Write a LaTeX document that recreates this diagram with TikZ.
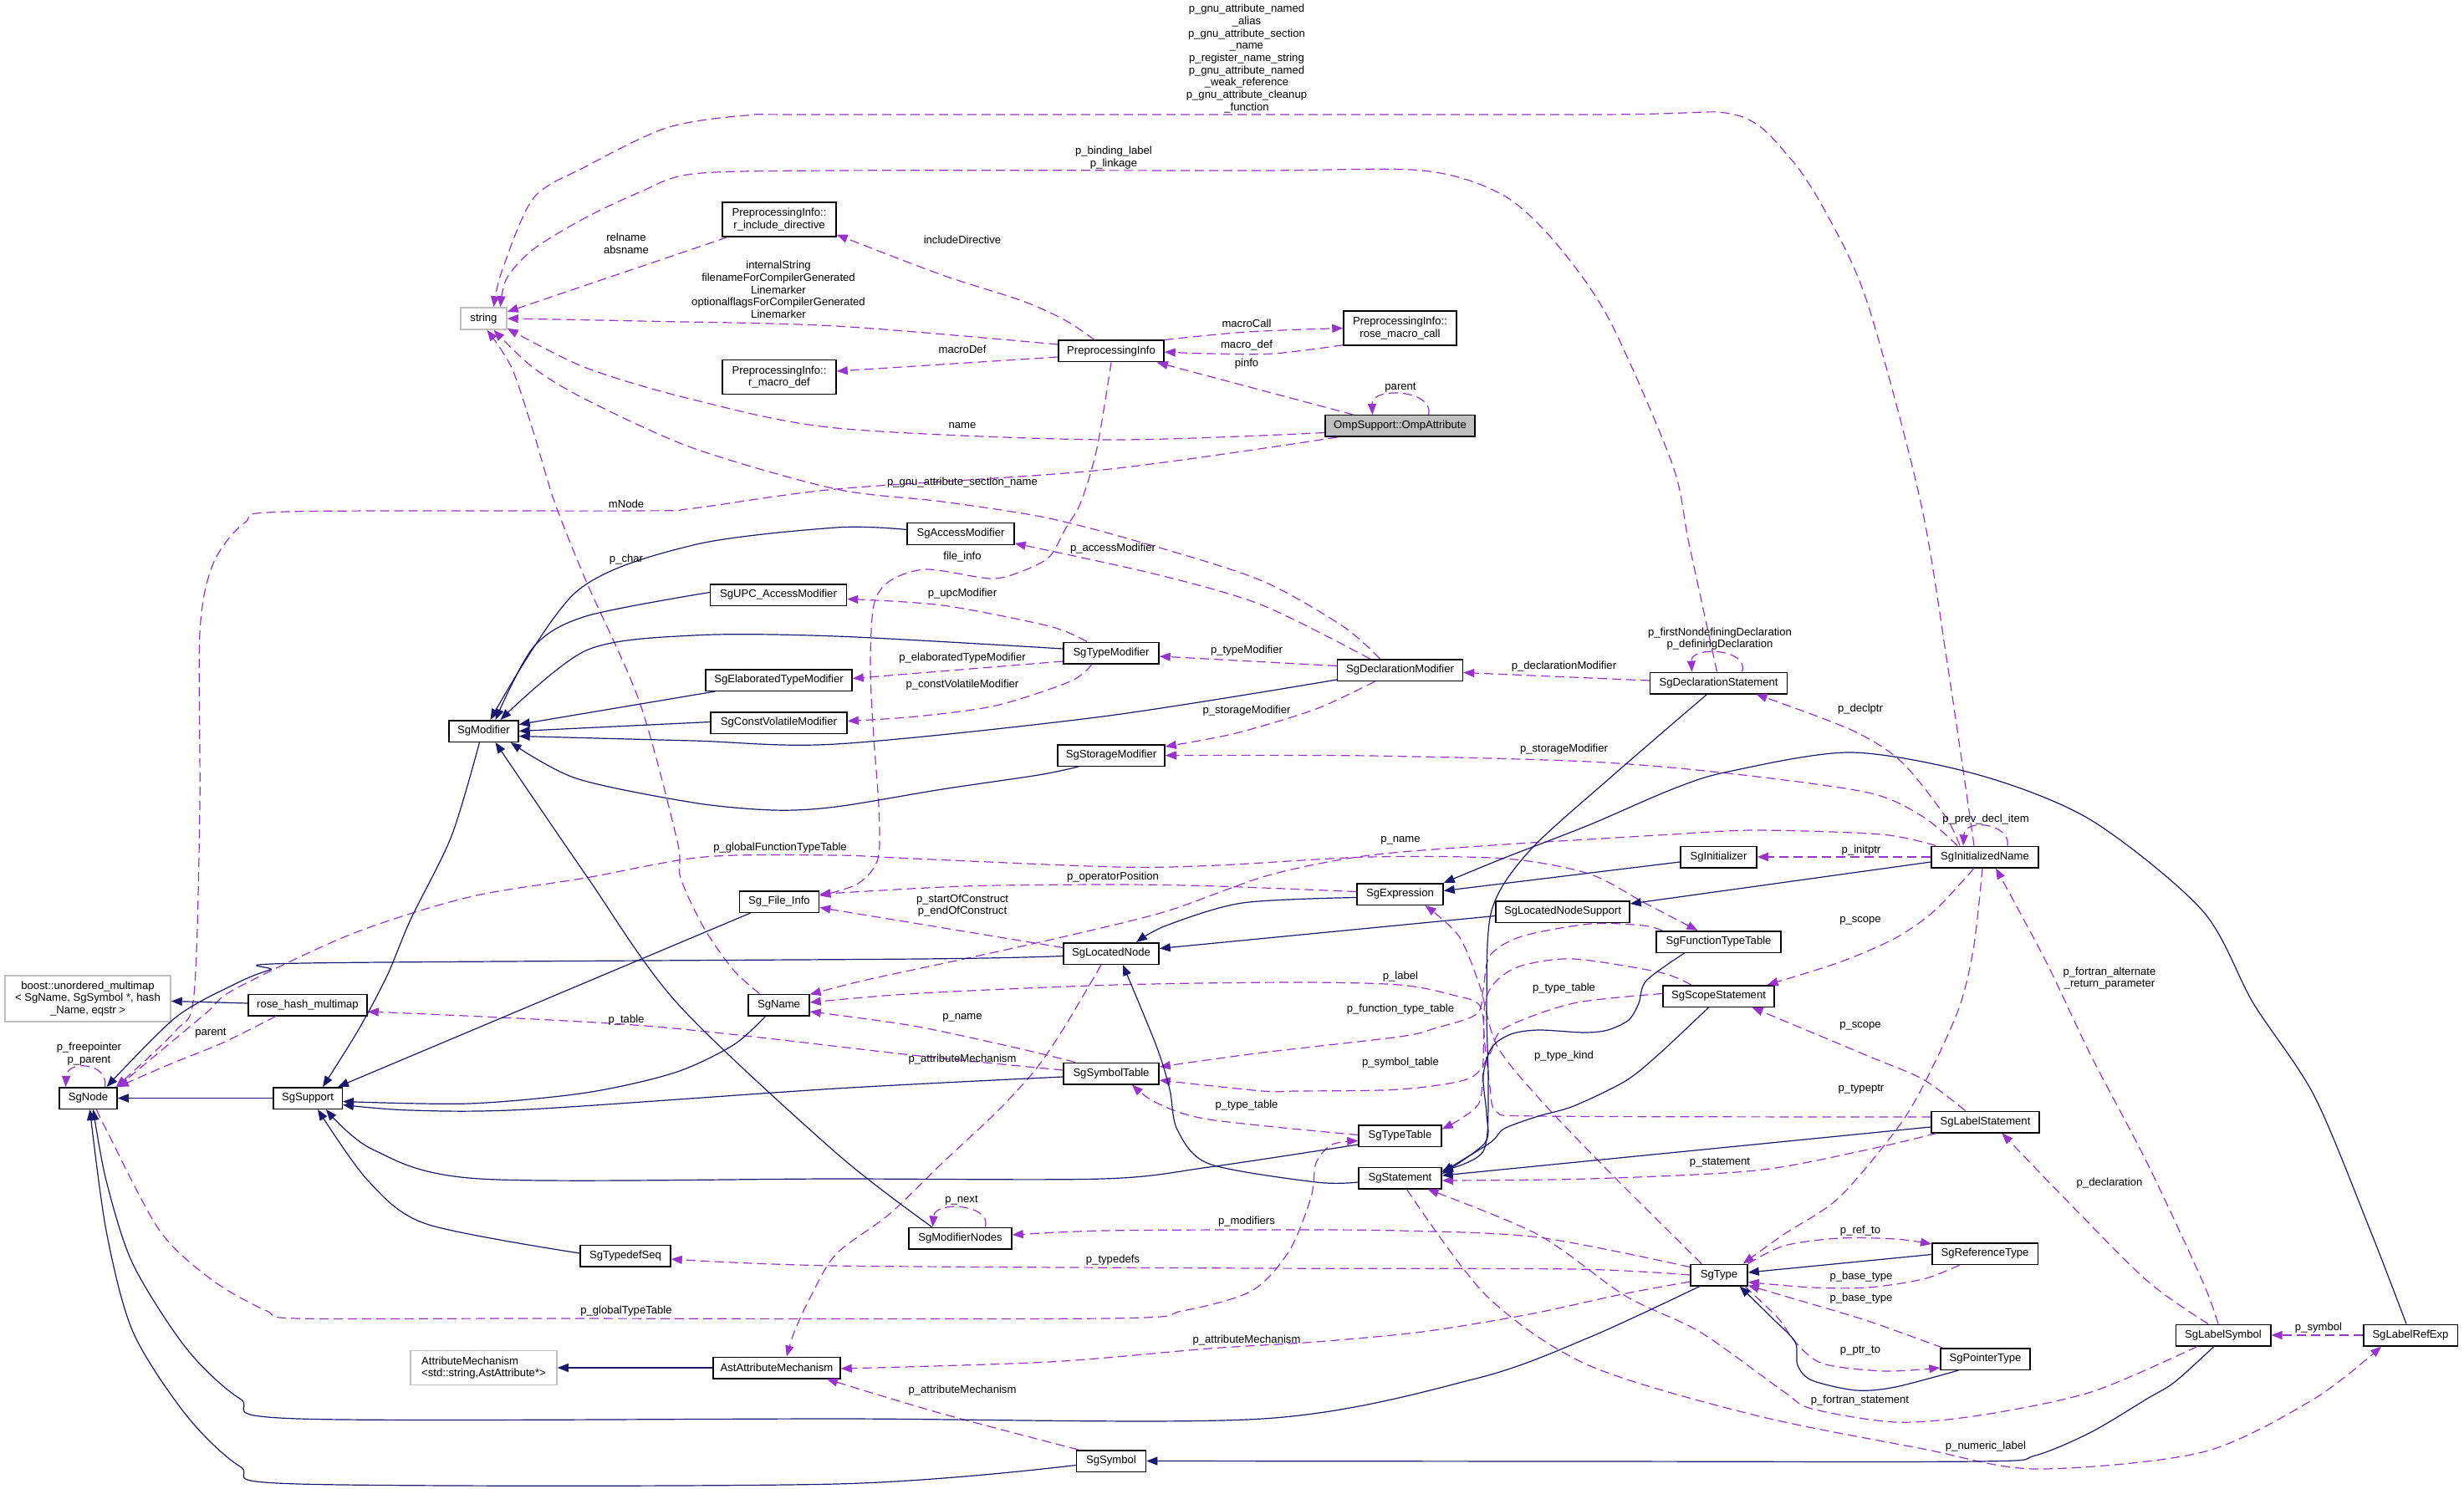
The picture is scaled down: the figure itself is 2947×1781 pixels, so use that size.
\documentclass[tikz,border=0pt]{standalone}
\usepackage{fontspec}
\setmainfont{Liberation Sans}
\usetikzlibrary{arrows.meta,calc}
\definecolor{navy}{HTML}{191970}
\definecolor{orch}{HTML}{9A32CD}
\definecolor{gbord}{HTML}{BFBFBF}
\begin{document}
\begin{tikzpicture}[x=0.5pt,y=-0.5pt,
  every node/.style={font=\fontsize{6.55pt}{7.35pt}\selectfont, inner sep=0pt, align=center},
  box/.style={draw=black, line width=0.75pt, fill=white, minimum height=12.75pt},
  gbox/.style={draw=gbord, line width=0.75pt, fill=white},
  inh/.style={draw=navy, line width=0.6pt, -{Triangle[length=6.5pt,width=5pt]}},
  dep/.style={draw=orch, line width=0.6pt, dash pattern=on 5.5pt off 3pt, -{Triangle[length=6.5pt,width=5pt]}},
]
\fill[white] (0,0) rectangle (2947,1781);
\useasboundingbox (0,0) rectangle (2947,1781);

% ---------- nodes ----------
\node[gbox, minimum width=27.5pt, minimum height=13pt] (str) at (578.5,381) {string};
\node[box, minimum width=68pt, minimum height=20.5pt] (rinc) at (932,262.5) {PreprocessingInfo::\\r\_include\_directive};
\node[box, minimum width=68pt, minimum height=20.5pt] (rmac) at (932,451) {PreprocessingInfo::\\r\_macro\_def};
\node[box, minimum width=63pt] (ppi) at (1329,420) {PreprocessingInfo};
\node[box, minimum width=67.5pt, minimum height=20.5pt] (rmc) at (1674.5,392.5) {PreprocessingInfo::\\rose\_macro\_call};
\node[box, fill=gbord, minimum width=89.5pt] (omp) at (1674.5,509.5) {OmpSupport::OmpAttribute};
\node[box, minimum width=41.5pt] (mod) at (578.5,874.5) {SgModifier};
\node[box, minimum width=64pt] (acc) at (1149,638.5) {SgAccessModifier};
\node[box, minimum width=81.5pt] (upc) at (931,711.5) {SgUPC\_AccessModifier};
\node[box, minimum width=57pt] (tmod) at (1329,781) {SgTypeModifier};
\node[box, minimum width=87.5pt] (elab) at (931.5,813.5) {SgElaboratedTypeModifier};
\node[box, minimum width=81.5pt] (cv) at (931.5,864.5) {SgConstVolatileModifier};
\node[box, minimum width=75pt] (dmod) at (1674.5,801.5) {SgDeclarationModifier};
\node[box, minimum width=64pt] (stor) at (1329,903.5) {SgStorageModifier};
\node[box, minimum width=82pt] (dstmt) at (2055.5,817) {SgDeclarationStatement};
\node[box, minimum width=64pt] (iname) at (2374,1025) {SgInitializedName};
\node[box, minimum width=45.5pt] (init) at (2055.5,1025) {SgInitializer};
\node[box, minimum width=51.5pt] (expr) at (1674.5,1069.5) {SgExpression};
\node[box, minimum width=80pt] (lns) at (1869,1090.5) {SgLocatedNodeSupport};
\node[box, minimum width=47.5pt] (fi) at (932,1078.5) {Sg\_File\_Info};
\node[box, minimum width=57pt] (lnode) at (1329,1140.5) {SgLocatedNode};
\node[box, minimum width=74.5pt] (ftt) at (2055.5,1126.5) {SgFunctionTypeTable};
\node[box, minimum width=66.5pt] (scope) at (2055.5,1191.5) {SgScopeStatement};
\node[box, minimum width=36.5pt] (name) at (931.5,1202) {SgName};
\node[gbox, minimum width=99pt, minimum height=27.5pt] (boost) at (105,1194.5) {boost::unordered\_multimap\\< SgName, SgSymbol *, hash\\\_Name, eqstr >};
\node[box, minimum width=71pt] (rhm) at (368,1202) {rose\_hash\_multimap};
\node[box, minimum width=34.5pt] (node) at (105.5,1313.5) {SgNode};
\node[box, minimum width=41.25pt] (sup) at (368,1313.5) {SgSupport};
\node[box, minimum width=57pt] (symt) at (1329,1284) {SgSymbolTable};
\node[box, minimum width=49.5pt] (tt) at (1674.5,1358.5) {SgTypeTable};
\node[box, minimum width=49.5pt] (stmt) at (1674.5,1409) {SgStatement};
\node[box, minimum width=64.5pt] (lstmt) at (2374.5,1342) {SgLabelStatement};
\node[box, minimum width=61.5pt] (mnodes) at (1148.5,1481) {SgModifierNodes};
\node[box, minimum width=54pt] (tds) at (748,1502) {SgTypedefSeq};
\node[box, minimum width=34pt] (type) at (2056,1525) {SgType};
\node[box, minimum width=63.25pt] (ref) at (2374,1499.5) {SgReferenceType};
\node[box, minimum width=53.5pt] (ptr) at (2374.5,1625.5) {SgPointerType};
\node[gbox, minimum width=87.5pt, minimum height=20.5pt, align=left] (am) at (578.5,1636) {AttributeMechanism\\<std::string,AstAttribute*>};
\node[box, minimum width=76pt] (aam) at (929,1636) {AstAttributeMechanism};
\node[box, minimum width=41.5pt] (sym) at (1329,1747.5) {SgSymbol};
\node[box, minimum width=56.75pt] (lsym) at (2659,1597) {SgLabelSymbol};
\node[box, minimum width=56.25pt] (lre) at (2883,1597) {SgLabelRefExp};

% ---------- usage edges ----------
\draw[dep] plot[smooth] coordinates {($(iname.north)+(-13,0)$) (2330,800) (2297,600) (2234,364) (2187,260) (2140,188) (2074,137) (1900,137) (1000,137) (893,138) (797,153) (701,199) (638,237) (600,325) ($(str.north)+(12,0)$)};
\draw[dep] plot[smooth] coordinates {($(dstmt.north)+(-2,0)$) (2020,650) (2000,555) (1925,383) (1861,291) (1797,233) (1701,204) (1500,204) (1000,204) (829,208) (765,230) (701,260) (638,298) (606,333) ($(str.north)+(20,0)$)};
\draw[dep] ($(rinc.south)+(-62,0)$) -- ($(str.east)+(0,-8)$);
\draw[dep] plot[smooth] coordinates {($(ppi.west)+(0,-8)$) (1000,390) (765,384) (str.east)};
\draw[dep] plot[smooth] coordinates {($(ppi.north)+(-20,0)$) (1274,383) (1223,360) (1127,329) ($(rinc.south east)+(0,-3)$)};
\draw[dep] ($(ppi.west)+(0,7)$) -- ($(rmac.east)+(0,-7)$);
\draw[dep] plot[smooth] coordinates {(ppi.north east) (1491,397) (rmc.west)};
\draw[dep] plot[smooth] coordinates {($(rmc.south west)+(0,-1)$) (1523,423) (1446,423) ($(ppi.east)+(0,1)$)};
\draw[dep] ($(omp.north)+(-56,0)$) -- ($(ppi.south east)+(-9,0)$);
\draw[dep] ($(omp.north)+(34,0)$) .. controls (1716,466) and (1640,462) .. ($(omp.north)+(-33,0)$);
\draw[dep] plot[smooth] coordinates {($(omp.west)+(0,8)$) (1319,526) (1000,512) (829,478) (701,440) ($(str.south east)+(0,-2)$)};
\draw[dep] plot[smooth] coordinates {($(omp.south west)+(15,0)$) (1319,562) (1000,585) (829,608) (765,611) (344,612) (293,625) (255,674) (239,757) (239,965) (232,1190) (210,1233) ($(node.north east)+(-2,0)$)};
\draw[dep] plot[smooth] coordinates {($(dmod.north)+(-24,0)$) (1606,749) (1510,695) (1383,654) (1255,620) (1127,600) (1000,585) (829,536) (701,478) (638,440) ($(str.south)+(12,0)$)};
\draw[dep] plot[smooth] coordinates {(ppi.south) (1312,536) (1293,600) (1274,633) (1255,666) (1223,683) (1185,692) (1108,681) (1064,695) (1045,724) (1041,799) (1045,882) (1051,965) (1050,1027) (1026,1057) ($(fi.east)+(0,-7)$)};
\draw[dep] plot[smooth] coordinates {($(dmod.north)+(-36,0)$) (1510,724) (1383,687) ($(acc.south east)+(0,-2)$)};
\draw[dep] plot[smooth] coordinates {($(tmod.north)+(-29,0)$) (1255,749) (1127,724) ($(upc.east)+(0,5)$)};
\draw[dep] ($(tmod.west)+(0,10)$) -- ($(elab.east)+(0,-2)$);
\draw[dep] plot[smooth] coordinates {($(tmod.south)+(-23,0)$) (1280,815) (1191,844) (1096,857) ($(cv.east)+(0,-2)$)};
\draw[dep] ($(dmod.west)+(0,-5)$) -- ($(tmod.east)+(0,4)$);
\draw[dep] ($(dstmt.west)+(0,-3)$) -- ($(dmod.east)+(0,3)$);
\draw[dep] plot[smooth] coordinates {($(dmod.south)+(-30,0)$) (1574,848) (1478,877) ($(stor.north east)+(0,3)$)};
\draw[dep] plot[smooth] coordinates {($(iname.north)+(-33,0)$) (2300,977) (2234,948) (2067,925) (1900,911) (1638,904) (stor.east)};
\draw[dep] ($(dstmt.north)+(28,0)$) .. controls (2093,776) and (2022,772) .. ($(dstmt.north)+(-32,0)$);
\draw[dep] plot[smooth] coordinates {($(iname.north)+(-30,0)$) (2327,977) (2274,911) (2214,873) ($(dstmt.south)+(45,0)$)};
\draw[dep] ($(iname.north)+(27,0)$) .. controls (2405,985) and (2350,978) .. ($(iname.north)+(-26,0)$);
\draw[dep] (iname.west) -- (init.east);
\draw[dep] plot[smooth] coordinates {($(iname.south)+(-13,0)$) (2314,1089) (2267,1122) (2200,1151) ($(scope.north)+(58,0)$)};
\draw[dep] plot[smooth] coordinates {($(iname.south)+(-3,0)$) (2361,1130) (2345,1200) (2314,1271) (2274,1343) (2200,1432) (2134,1476) ($(type.north east)+(-6,0)$)};
\draw[dep] plot[smooth] coordinates {($(iname.north west)+(6,0)$) (2250,998) (2100,993) (2000,998) (1900,1004) (1800,1010) (1638,1023) (1517,1047) (1395,1090) (1274,1120) (1153,1147) (1032,1173) ($(name.north east)+(0,1)$)};
\draw[dep] plot[smooth] coordinates {(node.north east) (245,1213) (281,1183) (421,1117) (561,1073) (701,1050) (842,1025) (1000,1023) (1092,1027) (1335,1037) (1456,1035) (1638,1025) (1800,1027) (1900,1045) (1967,1080) ($(ftt.north)+(-25,0)$)};
\draw[dep] plot[smooth] coordinates {($(lstmt.west)+(0,-6)$) (2200,1336) (1840,1335) (1790,1330) (1782,1300) (1776,1250) (1770,1203) (1737,1190) (1674,1178) (1550,1175) (1335,1178) (1100,1188) ($(name.east)+(0,-3)$)};
\draw[dep] plot[smooth] coordinates {($(symt.north)+(-43,0)$) (1214,1253) (1092,1227) ($(name.east)+(0,8)$)};
\draw[dep] plot[smooth] coordinates {($(name.north)+(-23,0)$) (877,1160) (842,1110) (814,1050) (810,1006) (765,840) (701,695) (663,600) (638,517) (612,440) ($(str.south)+(4,0)$)};
\draw[dep] ($(lnode.west)+(0,-7)$) -- ($(fi.east)+(0,7)$);
\draw[dep] plot[smooth] coordinates {($(expr.west)+(0,-3)$) (1456,1060) (1335,1058) (1153,1060) ($(fi.east)+(0,-9)$)};
\draw[dep] plot[smooth] coordinates {($(type.north)+(-21,0)$) (1923,1400) (1840,1313) (1790,1250) (1770,1180) (1745,1120) ($(expr.south)+(30,0)$)};
\draw[dep] plot[smooth] coordinates {($(lstmt.south west)+(7,0)$) (2234,1375) (2100,1400) (1900,1410) ($(stmt.east)+(0,3)$)};
\draw[dep] plot[smooth] coordinates {($(scope.north)+(-33,0)$) (1985,1163) (1882,1147) (1820,1155) (1790,1173) (1776,1200) (1774,1267) (1770,1317) (1749,1337) ($(tt.east)+(0,-8)$)};
\draw[dep] plot[smooth] coordinates {($(scope.west)+(0,-3)$) (1882,1200) (1799,1230) (1782,1260) (1757,1290) (1674,1303) (1550,1305) (1510,1305) ($(symt.east)+(0,8)$)};
\draw[dep] plot[smooth] coordinates {($(ftt.north west)+(8,0)$) (1965,1107) (1902,1105) (1820,1120) (1782,1143) (1774,1183) (1766,1213) (1716,1230) (1674,1240) (1510,1259) ($(symt.east)+(0,-8)$)};
\draw[dep] plot[smooth] coordinates {($(tt.west)+(0,-1)$) (1446,1339) (1383,1319) ($(symt.south)+(25,0)$)};
\draw[dep] plot[smooth] coordinates {($(node.south)+(10,0)$) (127,1351) (191,1472) (255,1532) (319,1568) (357,1577) (638,1577) (1319,1577) (1414,1568) (1497,1544) (1542,1496) (1568,1432) (1574,1391) (1593,1369) ($(tt.west)+(0,6)$)};
\draw[dep] plot[smooth] coordinates {($(symt.west)+(0,-4)$) (1100,1263) (772,1227) ($(rhm.east)+(0,8)$)};
\draw[dep] plot[smooth] coordinates {($(rhm.south)+(-38,0)$) (267,1247) (203,1273) (node.north east)};
\draw[dep] ($(node.north)+(20,0)$) .. controls (130,1270) and (80,1268) .. ($(node.north)+(-27,0)$);
\draw[dep] ($(mnodes.north)+(30,0)$) .. controls (1186,1440) and (1118,1436) .. ($(mnodes.north)+(-33,0)$);
\draw[dep] plot[smooth] coordinates {($(type.north west)+(0,4)$) (1840,1480) (1674,1472) (1510,1471) (1319,1472) ($(mnodes.east)+(0,-4)$)};
\draw[dep] plot[smooth] coordinates {(type.west) (1882,1518) (1510,1517) (1000,1514) ($(tds.east)+(0,4)$)};
\draw[dep] plot[smooth] coordinates {($(type.west)+(0,8)$) (1940,1548) (1829,1572) (1701,1593) (1574,1605) (1446,1613) (1255,1629) ($(aam.east)+(0,1)$)};
\draw[dep] plot[smooth] coordinates {($(lnode.south)+(-12,0)$) (1274,1227) (1238,1280) (1191,1331) (1127,1391) (1064,1452) (1000,1500) (969,1552) (950,1593) ($(aam.north)+(12,0)$)};
\draw[dep] plot[smooth] coordinates {($(sym.north west)+(3,0)$) (1127,1691) ($(aam.south east)+(-17,0)$)};
\draw[dep] plot[smooth] coordinates {($(lsym.south)+(-31,0)$) (2501,1665) (2367,1693) (2267,1701) (2167,1685) (2134,1665) (2033,1593) (1944,1550) (1840,1477) ($(stmt.south)+(33,0)$)};
\draw[dep] plot[smooth] coordinates {($(stmt.south)+(8,0)$) (1778,1550) (1900,1633) (2100,1693) (2300,1733) (2434,1757) (2634,1737) (2768,1673) ($(lre.south)+(-35,0)$)};
\draw[dep] plot[smooth] coordinates {($(lstmt.north)+(-24,0)$) (2300,1291) (2234,1263) ($(scope.south)+(40,0)$)};
\draw[dep] plot[smooth] coordinates {($(lsym.north)+(-18,0)$) (2568,1532) (2468,1432) ($(lstmt.south)+(20,0)$)};
\draw[dep] plot[smooth] coordinates {($(lsym.north)+(-6,0)$) (2634,1532) (2568,1391) (2501,1263) (2447,1150) ($(iname.south)+(13,0)$)};
\draw[dep] (lre.west) -- (lsym.east);
\draw[dep] plot[smooth] coordinates {(type.north east) (2134,1490) (2200,1481) (2267,1482) ($(ref.north west)+(0,2)$)};
\draw[dep] plot[smooth] coordinates {($(ref.south)+(-30,0)$) (2300,1530) (2234,1540) (2167,1540) ($(type.south east)+(0,-5)$)};
\draw[dep] plot[smooth] coordinates {($(ptr.north west)+(3,0)$) (2234,1580) (2154,1556) ($(type.south east)+(0,-1)$)};
\draw[dep] plot[smooth] coordinates {($(type.south east)+(-4,0)$) (2127,1577) (2147,1605) (2180,1631) (2254,1640) ($(ptr.south west)+(0,-3)$)};

% ---------- inheritance edges ----------
\draw[inh] (sup.west) -- (node.east);
\draw[inh] ($(rhm.west)+(0,-2)$) -- ($(boost.east)+(0,3)$);
\draw[inh] plot[smooth] coordinates {($(lnode.west)+(0,3)$) (1100,1147) (365,1152) (323,1160) (281,1177) (210,1217) ($(node.north)+(22,0)$)};
\draw[inh] plot[smooth] coordinates {($(mod.south)+(-5,0)$) (540,1000) (491,1100) (463,1167) (428,1233) ($(sup.north)+(18,0)$)};
\draw[inh] ($(fi.south west)+(14,0)$) -- ($(sup.north east)+(-6,0)$);
\draw[inh] plot[smooth] coordinates {($(name.south)+(-16,0)$) (877,1250) (807,1283) (701,1307) (561,1320) ($(sup.east)+(0,4)$)};
\draw[inh] plot[smooth] coordinates {($(symt.west)+(0,4)$) (1000,1302) (631,1327) (491,1328) ($(sup.east)+(0,8)$)};
\draw[inh] plot[smooth] coordinates {($(tt.south west)+(0,-3)$) (1446,1396) (1319,1410) (1000,1410) (574,1410) (446,1375) ($(sup.south)+(22,0)$)};
\draw[inh] plot[smooth] coordinates {($(tds.west)+(0,-3)$) (510,1464) (440,1412) ($(sup.south)+(12,0)$)};
\draw[inh] plot[smooth] coordinates {($(acc.west)+(0,-5)$) (1000,631) (829,652) (689,708) ($(mod.north)+(8,0)$)};
\draw[inh] plot[smooth] coordinates {($(upc.west)+(0,-3)$) (701,737) (638,774) ($(mod.north)+(14,0)$)};
\draw[inh] plot[smooth] coordinates {($(tmod.west)+(0,-5)$) (1000,761) (829,760) (701,778) ($(mod.north)+(20,0)$)};
\draw[inh] ($(elab.south west)+(12,0)$) -- ($(mod.east)+(0,-8)$);
\draw[inh] ($(cv.west)+(0,-1)$) -- (mod.east);
\draw[inh] plot[smooth] coordinates {($(dmod.south west)+(0,-2)$) (1319,857) (1000,890) (829,886) ($(mod.east)+(0,6)$)};
\draw[inh] plot[smooth] coordinates {($(stor.south)+(-39,0)$) (1242,927) (1127,944) (1000,965) (925,969) (829,960) (689,931) ($(mod.south east)+(-10,0)$)};
\draw[inh] plot[smooth] coordinates {($(mnodes.north)+(-34,0)$) (1000,1379) (810,1200) (701,1047) ($(mod.south)+(14,0)$)};
\draw[inh] plot[smooth] coordinates {($(expr.west)+(0,4)$) (1486,1080) (1395,1107) ($(lnode.north)+(30,0)$)};
\draw[inh] ($(lns.west)+(0,5)$) -- ($(lnode.east)+(0,-6)$);
\draw[inh] plot[smooth] coordinates {($(stmt.west)+(0,5)$) (1574,1414) (1446,1392) (1408,1351) (1399,1303) (1383,1251) ($(lnode.south)+(14,0)$)};
\draw[inh] plot[smooth] coordinates {($(dstmt.south)+(-14,0)$) (1925,931) (1829,1018) (1784,1089) (1778,1200) (1780,1300) (1774,1377) ($(stmt.east)+(0,-9)$)};
\draw[inh] plot[smooth] coordinates {($(scope.south)+(-12,0)$) (1985,1260) (1944,1293) (1882,1323) (1840,1335) (1799,1350) (1782,1367) ($(stmt.east)+(0,-7)$)};
\draw[inh] plot[smooth] coordinates {($(ftt.south)+(-41,0)$) (1969,1173) (1960,1200) (1948,1220) (1923,1232) (1894,1235) (1840,1232) (1807,1237) (1784,1253) (1774,1287) (1778,1333) (1776,1367) ($(stmt.east)+(0,-5)$)};
\draw[inh] ($(lstmt.west)+(0,6)$) -- ($(stmt.east)+(0,-3)$);
\draw[inh] ($(init.west)+(0,6)$) -- ($(expr.east)+(0,-4)$);
\draw[inh] plot[smooth] coordinates {($(lre.north)+(-5,0)$) (2835,1472) (2768,1311) (2695,1200) (2634,1089) (2501,981) (2367,927) (2214,900) (2067,923) (2000,944) (1900,987) (1797,1027) (expr.north east)};
\draw[inh] ($(iname.west)+(0,6)$) -- ($(lns.north east)+(0,4)$);
\draw[inh] plot[smooth] coordinates {($(lsym.south)+(-11,0)$) (2601,1653) (2568,1673) (2501,1713) (2434,1741) (2367,1748) (1900,1748) (sym.east)};
\draw[inh] plot[smooth] coordinates {($(type.south)+(-23,0)$) (1900,1600) (1765,1649) (1510,1697) (1000,1697) (357,1697) (287,1673) (223,1613) (159,1512) (127,1412) ($(node.south)+(6,0)$)};
\draw[inh] plot[smooth] coordinates {($(sym.west)+(0,5)$) (1000,1775) (357,1775) (287,1754) (223,1693) (159,1593) (127,1472) ($(node.south)+(2,0)$)};
\draw[inh] ($(ref.west)+(0,1)$) -- ($(type.east)+(0,-3)$);
\draw[inh] plot[smooth] coordinates {($(ptr.south)+(-32,0)$) (2267,1659) (2220,1663) (2167,1651) (2150,1633) (2147,1605) (2120,1577) ($(type.south east)+(-10,0)$)};
\draw[inh] (aam.west) -- (am.east);

% ---------- labels ----------
\node (l1) at (1491,70) {p\_gnu\_attribute\_named\\\_alias\\p\_gnu\_attribute\_section\\\_name\\p\_register\_name\_string\\p\_gnu\_attribute\_named\\\_weak\_reference\\p\_gnu\_attribute\_cleanup\\\_function};
\node (l2) at (1332,188.5) {p\_binding\_label\\p\_linkage};
\node (l3) at (749,291) {relname\\absname};
\node (l4) at (931,346.5) {internalString\\filenameForCompilerGenerated\\Linemarker\\optionalflagsForCompilerGenerated\\Linemarker};
\node (l5) at (1151,287) {includeDirective};
\node (l6) at (1491,387) {macroCall};
\node (l7) at (1491,413) {macro\_def};
\node (l8) at (1491,435.5) {pinfo};
\node (l9) at (1675,464) {parent};
\node (l10) at (1151,418) {macroDef};
\node (l11) at (1151,509) {name};
\node (l12) at (1151,577) {p\_gnu\_attribute\_section\_name};
\node (l13) at (749,603) {mNode};
\node (l14) at (749,669) {p\_char};
\node (l15) at (1151,666.5) {file\_info};
\node (l16) at (1331,656) {p\_accessModifier};
\node (l17) at (1151,710) {p\_upcModifier};
\node (l18) at (1151,787.5) {p\_elaboratedTypeModifier};
\node (l19) at (1151,819.5) {p\_constVolatileModifier};
\node (l20) at (1491,778) {p\_typeModifier};
\node (l21) at (1870.5,797) {p\_declarationModifier};
\node (l22) at (1491,850.5) {p\_storageModifier};
\node (l23) at (1870.5,896.5) {p\_storageModifier};
\node (l24) at (2057,764) {p\_firstNondefiningDeclaration\\p\_definingDeclaration};
\node (l25) at (2225,848) {p\_declptr};
\node (l26) at (2375,980) {p\_prev\_decl\_item};
\node (l27) at (2226,1017) {p\_initptr};
\node (l28) at (933,1014) {p\_globalFunctionTypeTable};
\node (l29) at (1675,1005) {p\_name};
\node (l30) at (1331,1049) {p\_operatorPosition};
\node (l31) at (1151,1083) {p\_startOfConstruct\\p\_endOfConstruct};
\node (l32) at (2225,1101) {p\_scope};
\node (l33) at (2523,1170) {p\_fortran\_alternate\\\_return\_parameter};
\node (l34) at (1675,1168) {p\_label};
\node (l35) at (1870.5,1182.5) {p\_type\_table};
\node (l36) at (1675,1207.5) {p\_function\_type\_table};
\node (l37) at (1151,1217) {p\_name};
\node (l38) at (749,1220) {p\_table};
\node (l39) at (252,1236) {parent};
\node (l40) at (106.5,1260.5) {p\_freepointer\\p\_parent};
\node (l41) at (2225,1227.7) {p\_scope};
\node (l42) at (1870.5,1263) {p\_type\_kind};
\node (l43) at (1151,1267.5) {p\_attributeMechanism};
\node (l44) at (1675,1271) {p\_symbol\_table};
\node (l45) at (2226,1303) {p\_typeptr};
\node (l46) at (1491,1322.5) {p\_type\_table};
\node (l47) at (2057,1390.5) {p\_statement};
\node (l48) at (2523,1415.5) {p\_declaration};
\node (l49) at (1150,1436) {p\_next};
\node (l50) at (1491,1461) {p\_modifiers};
\node (l51) at (2225,1472) {p\_ref\_to};
\node (l52) at (1331,1507) {p\_typedefs};
\node (l53) at (2226,1527.5) {p\_base\_type};
\node (l54) at (2226,1553) {p\_base\_type};
\node (l55) at (749,1568.5) {p\_globalTypeTable};
\node (l56) at (2773,1588.5) {p\_symbol};
\node (l57) at (1491,1602.7) {p\_attributeMechanism};
\node (l58) at (2225,1615.5) {p\_ptr\_to};
\node (l59) at (1151,1663.5) {p\_attributeMechanism};
\node (l60) at (2224.5,1675) {p\_fortran\_statement};
\node (l61) at (2375,1730) {p\_numeric\_label};
\end{tikzpicture}
\end{document}
